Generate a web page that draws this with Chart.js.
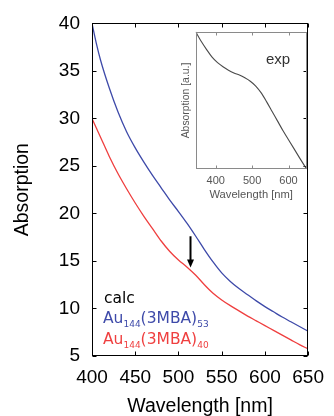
<!DOCTYPE html>
<html>
<head>
<meta charset="utf-8">
<script src="https://cdn.jsdelivr.net/npm/chart.js@4/dist/chart.umd.min.js"></script>
<style>
  html, body { margin: 0; padding: 0; background: #ffffff; }
  #wrap { position: relative; width: 334px; height: 416px; overflow: hidden; }
  #main { position: absolute; left: 0; top: 0; }
  #inset { position: absolute; left: 170px; top: 20px; }
</style>
</head>
<body>
<div id="wrap">
  <canvas id="main" width="334" height="416"></canvas>
  <canvas id="inset" width="145" height="190"></canvas>
</div>
<script>
// Calculated absorption spectra (wavelength in nm)
const calcWavelengths = [400, 405, 410, 420, 430, 440, 450, 460, 470, 480, 490, 500, 510, 520,
                         530, 540, 550, 560, 570, 580, 590, 600, 610, 620, 630, 640, 650];
const au53Values = [40.0, 37.9, 36.1, 33.2, 30.7, 28.6, 26.9, 25.4, 24.0, 22.7, 21.4, 20.2, 18.95, 17.6,
                    16.2, 14.9, 13.75, 12.85, 12.1, 11.45, 10.8, 10.2, 9.65, 9.1, 8.6, 8.1, 7.6];
const au40Values = [30.0, 29.0, 28.0, 26.0, 24.2, 22.6, 21.1, 19.7, 18.4, 17.1, 16.0, 15.1, 14.35, 13.5,
                    12.5, 11.6, 10.9, 10.3, 9.75, 9.2, 8.7, 8.2, 7.7, 7.2, 6.7, 6.2, 5.75];

// Measured spectrum (normalised, arbitrary units)
const expWavelengths = [345, 360, 375, 390, 405, 420, 435, 450, 465, 480, 495, 510, 525,
                        540, 555, 570, 585, 600, 615, 630, 650];
const expValues = [1.00, 0.93, 0.87, 0.815, 0.775, 0.745, 0.72, 0.70, 0.685, 0.665, 0.64, 0.605, 0.555,
                   0.49, 0.42, 0.35, 0.28, 0.215, 0.15, 0.085, 0.0];

// Axis ticks
const mainXTicks = [400, 450, 500, 550, 600, 650];
const mainYTicks = [5, 10, 15, 20, 25, 30, 35, 40];
const insetXTicks = [400, 500, 600];

// Arrow marking the shoulder of the Au144(3MBA)40 spectrum
const arrowWavelength = [513];
const arrowFromTo = [17.6, 14.3];

const BLUE = '#3e4aa9';
const RED = '#ef3f3f';
const SANS = '"Liberation Sans", Arial, Helvetica, sans-serif';
const LEGEND_FONT = '"DejaVu Sans", Verdana, sans-serif';

const toPoints = (xs, ys) => xs.map((x, i) => ({ x: x, y: ys[i] }));

// Frame around the plot area with inward-pointing tick marks on all sides
function frameWithTicks(id, color, len, xTicks, yTicks) {
  return {
    id: id,
    afterDatasetsDraw(chart) {
      const { ctx, chartArea: a, scales } = chart;
      const L = Math.round(a.left) + 0.5, R = Math.round(a.right) - 0.5;
      const T = Math.round(a.top) + 0.5, B = Math.round(a.bottom) - 0.5;
      ctx.save();
      ctx.strokeStyle = color;
      ctx.lineWidth = 1;
      ctx.strokeRect(L, T, R - L, B - T);
      ctx.beginPath();
      xTicks.forEach(v => {
        const px = Math.round(scales.x.getPixelForValue(v)) + 0.5;
        ctx.moveTo(px, B); ctx.lineTo(px, B - len);
        ctx.moveTo(px, T); ctx.lineTo(px, T + len);
      });
      yTicks.forEach(v => {
        const py = Math.round(scales.y.getPixelForValue(v)) + 0.5;
        ctx.moveTo(L, py); ctx.lineTo(L + len, py);
        ctx.moveTo(R, py); ctx.lineTo(R - len, py);
      });
      ctx.stroke();
      ctx.restore();
    }
  };
}

// Arrow and the text key inside the main plot
const mainAnnotations = {
  id: 'mainAnnotations',
  afterDatasetsDraw(chart) {
    const { ctx, scales } = chart;
    const ax = Math.round(scales.x.getPixelForValue(arrowWavelength[0])) + 0.5;
    const y0 = scales.y.getPixelForValue(arrowFromTo[0]);
    const y1 = scales.y.getPixelForValue(arrowFromTo[1]);
    ctx.save();
    ctx.strokeStyle = '#000';
    ctx.fillStyle = '#000';
    ctx.lineWidth = 2;
    ctx.beginPath();
    ctx.moveTo(ax, y0);
    ctx.lineTo(ax, y1 - 6);
    ctx.stroke();
    ctx.beginPath();
    ctx.moveTo(ax - 3.5, y1 - 8);
    ctx.lineTo(ax + 3.5, y1 - 8);
    ctx.lineTo(ax, y1);
    ctx.closePath();
    ctx.fill();

    // key: label, then the two cluster formulas with subscripts
    ctx.textBaseline = 'alphabetic';
    ctx.textAlign = 'left';
    ctx.font = '15.5px ' + LEGEND_FONT;
    ctx.fillStyle = '#000';
    ctx.fillText('calc', 104, 302.5);

    const formula = (y, sub2, color) => {
      let x = 103;
      ctx.fillStyle = color;
      ctx.font = '15.5px ' + LEGEND_FONT;
      ctx.fillText('Au', x, y); x += ctx.measureText('Au').width;
      ctx.font = '9px ' + LEGEND_FONT;
      ctx.fillText('144', x, y + 3.5); x += ctx.measureText('144').width;
      ctx.font = '15.5px ' + LEGEND_FONT;
      ctx.fillText('(3MBA)', x, y); x += ctx.measureText('(3MBA)').width;
      ctx.font = '9px ' + LEGEND_FONT;
      ctx.fillText(sub2, x, y + 3.5);
    };
    formula(323, '53', BLUE);
    formula(344, '40', RED);
    ctx.restore();
  }
};

new Chart(document.getElementById('main'), {
  type: 'line',
  data: {
    datasets: [
      { label: 'Au144(3MBA)53', data: toPoints(calcWavelengths, au53Values),
        borderColor: BLUE, borderWidth: 1.3, pointRadius: 0, cubicInterpolationMode: 'monotone', fill: false },
      { label: 'Au144(3MBA)40', data: toPoints(calcWavelengths, au40Values),
        borderColor: RED, borderWidth: 1.3, pointRadius: 0, cubicInterpolationMode: 'monotone', fill: false }
    ]
  },
  options: {
    responsive: false,
    animation: false,
    devicePixelRatio: 1,
    layout: { padding: { top: 22.5, right: 19, bottom: 0, left: 0 } },
    plugins: { legend: { display: false }, tooltip: { enabled: false } },
    scales: {
      x: {
        type: 'linear', min: 400, max: 650,
        afterBuildTicks: s => { s.ticks = mainXTicks.map(v => ({ value: v })); },
        afterFit: s => { s.height = 60; },
        grid: { display: false, drawTicks: false },
        border: { display: false },
        ticks: { font: { family: SANS, size: 19 }, color: '#000', padding: 10,
                 maxRotation: 0, autoSkip: false },
        title: { display: true, text: 'Wavelength [nm]', color: '#000',
                 font: { family: SANS, size: 19.5, lineHeight: 1 }, padding: { top: 0, bottom: 0 } }
      },
      y: {
        type: 'linear', min: 5, max: 40,
        afterBuildTicks: s => { s.ticks = mainYTicks.map(v => ({ value: v })); },
        afterFit: s => { s.width = 92; },
        grid: { display: false, drawTicks: false },
        border: { display: false },
        ticks: { font: { family: SANS, size: 19 }, color: '#000', padding: 12 },
        title: { display: true, text: 'Absorption', color: '#000',
                 font: { family: SANS, size: 19.5, lineHeight: 1 }, padding: { top: 12.5, bottom: 0 } }
      }
    }
  },
  plugins: [frameWithTicks('mainFrame', '#000', 4, mainXTicks, mainYTicks), mainAnnotations]
});

// "exp" label inside the inset
const insetLabel = {
  id: 'insetLabel',
  afterDatasetsDraw(chart) {
    const ctx = chart.ctx;
    ctx.save();
    ctx.fillStyle = '#333';
    ctx.font = '15px ' + SANS;
    ctx.textBaseline = 'alphabetic';
    ctx.textAlign = 'left';
    ctx.fillText('exp', 96, 44);
    ctx.restore();
  }
};

new Chart(document.getElementById('inset'), {
  type: 'line',
  data: {
    datasets: [
      { label: 'exp', data: toPoints(expWavelengths, expValues),
        borderColor: '#4a4a4a', borderWidth: 1.1, pointRadius: 0, cubicInterpolationMode: 'monotone', fill: false }
    ]
  },
  options: {
    responsive: false,
    animation: false,
    devicePixelRatio: 1,
    layout: { padding: { top: 11.7, right: 8.3, bottom: 0, left: 0 } },
    plugins: { legend: { display: false }, tooltip: { enabled: false } },
    scales: {
      x: {
        type: 'linear', min: 345, max: 650,
        afterBuildTicks: s => { s.ticks = insetXTicks.map(v => ({ value: v })); },
        afterFit: s => { s.height = 40.7; },
        grid: { display: false, drawTicks: false },
        border: { display: false },
        ticks: { font: { family: SANS, size: 11 }, color: '#555', padding: 5,
                 maxRotation: 0, autoSkip: false },
        title: { display: true, text: 'Wavelength [nm]', color: '#555',
                 font: { family: SANS, size: 11.2, lineHeight: 1 }, padding: { top: 0, bottom: 9 } }
      },
      y: {
        type: 'linear', min: 0, max: 1,
        afterFit: s => { s.width = 25.7; },
        grid: { display: false, drawTicks: false },
        border: { display: false },
        ticks: { display: false },
        title: { display: true, text: 'Absorption [a.u.]', color: '#555',
                 font: { family: SANS, size: 10.4, lineHeight: 1 }, padding: { top: 10.8, bottom: 0 } }
      }
    }
  },
  plugins: [frameWithTicks('insetFrame', '#8a8a8a', 3, insetXTicks, []), insetLabel]
});
</script>
</body>
</html>
